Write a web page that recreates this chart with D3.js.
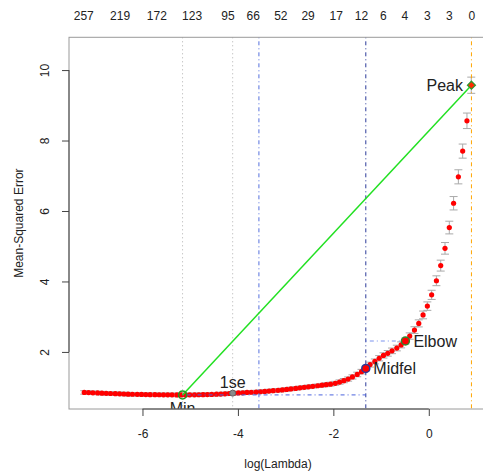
<!DOCTYPE html>
<html lang="en">
<head>
<meta charset="utf-8">
<title>CV MSE vs log(Lambda)</title>
<script src="https://d3js.org/d3.v7.min.js"></script>
<style>
  body { margin: 0; background: #fff; }
  text { font-family: "Liberation Sans", Arial, sans-serif; fill: #222; }
</style>
</head>
<body>
<script>
// log(lambda) grid and cross-validated error
var logLambda = [
  -7.22, -7.13, -7.04, -6.94, -6.85, -6.76, -6.67, -6.57, -6.48, -6.39,
  -6.30, -6.21, -6.11, -6.02, -5.93, -5.84, -5.74, -5.65, -5.56, -5.47,
  -5.38, -5.28, -5.19, -5.10, -5.01, -4.91, -4.82, -4.73, -4.64, -4.55,
  -4.45, -4.36, -4.27, -4.18, -4.08, -3.99, -3.90, -3.81, -3.72, -3.62,
  -3.53, -3.44, -3.35, -3.26, -3.16, -3.07, -2.98, -2.89, -2.79, -2.70,
  -2.61, -2.52, -2.43, -2.33, -2.24, -2.15, -2.06, -1.96, -1.87, -1.78,
  -1.69, -1.60, -1.50, -1.41, -1.32, -1.23, -1.13, -1.04, -0.95, -0.86,
  -0.77, -0.67, -0.58, -0.49, -0.40, -0.30, -0.21, -0.12, -0.03, 0.06,
  0.16, 0.25, 0.34, 0.43, 0.52, 0.62, 0.71, 0.80, 0.89
];
var cvm = [
  0.85, 0.845, 0.84, 0.835, 0.83, 0.825, 0.82, 0.815, 0.81, 0.806,
  0.802, 0.799, 0.796, 0.793, 0.79, 0.788, 0.786, 0.784, 0.783, 0.782,
  0.781, 0.78, 0.78, 0.78, 0.781, 0.782, 0.784, 0.787, 0.79, 0.795,
  0.80, 0.805, 0.81, 0.82, 0.83, 0.835, 0.84, 0.85, 0.855, 0.86,
  0.87, 0.88, 0.89, 0.90, 0.91, 0.92, 0.935, 0.95, 0.965, 0.98,
  0.995, 1.01, 1.025, 1.04, 1.055, 1.07, 1.085, 1.11, 1.145, 1.185,
  1.23, 1.29, 1.36, 1.44, 1.53, 1.64, 1.73, 1.82, 1.90, 1.96,
  2.03, 2.11, 2.20, 2.31, 2.45, 2.62, 2.81, 3.05, 3.30, 3.62,
  4.02, 4.45, 4.94, 5.53, 6.22, 6.97, 7.70, 8.56, 9.57
];
var cvsd = [
  0.05, 0.05, 0.05, 0.05, 0.05, 0.05, 0.05, 0.05, 0.05, 0.05,
  0.05, 0.05, 0.05, 0.05, 0.05, 0.05, 0.05, 0.05, 0.05, 0.05,
  0.05, 0.05, 0.05, 0.05, 0.05, 0.05, 0.05, 0.05, 0.05, 0.05,
  0.05, 0.05, 0.05, 0.05, 0.05, 0.05, 0.05, 0.05, 0.05, 0.05,
  0.05, 0.05, 0.05, 0.05, 0.05, 0.05, 0.05, 0.05, 0.05, 0.05,
  0.05, 0.05, 0.05, 0.05, 0.05, 0.055, 0.055, 0.055, 0.06, 0.06,
  0.06, 0.06, 0.065, 0.065, 0.07, 0.07, 0.07, 0.075, 0.075, 0.08,
  0.08, 0.08, 0.085, 0.085, 0.09, 0.095, 0.10, 0.11, 0.12, 0.13,
  0.14, 0.155, 0.165, 0.18, 0.19, 0.20, 0.20, 0.22, 0.23
];

// number of nonzero coefficients shown on the top axis
var nzLambda = [-7.23, -6.47, -5.70, -4.96, -4.21, -3.68, -3.10, -2.53, -1.94, -1.41, -0.95, -0.50, -0.03, 0.43, 0.90];
var nzLabels = ["257", "219", "172", "123", "95", "66", "52", "29", "17", "12", "6", "4", "3", "3", "0"];

// marked points
var keyNames = ["Min", "1se", "Midfel", "Elbow", "Peak"];
var keyLambda = [-5.16, -4.11, -1.32, -0.49, 0.894];
var keyMSE = [0.78, 0.83, 1.53, 2.31, 9.57];
var extraLambda = -3.56;   // blue dot-dash vertical

var xTicks = [-6, -4, -2, 0];
var yTicks = [2, 4, 6, 8, 10];

var W = 483, H = 473;
var box = {left: 69, right: 487, top: 37.3, bottom: 409};

var x = d3.scaleLinear().domain([-7.54, 1.22]).range([box.left, box.right]);
var y = d3.scaleLinear().domain([0.38, 10.93]).range([box.bottom, box.top]);

var svg = d3.select("body").append("svg")
    .attr("width", W)
    .attr("height", H);

svg.append("defs").append("clipPath").attr("id", "plotclip")
  .append("rect")
    .attr("x", box.left).attr("y", box.top)
    .attr("width", box.right - box.left).attr("height", box.bottom - box.top);

var plot = svg.append("g").attr("clip-path", "url(#plotclip)");

var data = logLambda.map(function(l, i) { return {l: l, m: cvm[i], s: cvsd[i]}; });

// error bars
var eb = plot.append("g").attr("stroke", "#a9a9a9").attr("stroke-width", 1);
data.forEach(function(d) {
  eb.append("line")
      .attr("x1", x(d.l)).attr("x2", x(d.l))
      .attr("y1", y(d.m - d.s)).attr("y2", y(d.m + d.s));
  [d.m - d.s, d.m + d.s].forEach(function(v) {
    eb.append("line")
        .attr("x1", x(d.l) - 4).attr("x2", x(d.l) + 4)
        .attr("y1", y(v)).attr("y2", y(v));
  });
});

// points
plot.append("g").selectAll("circle")
    .data(data)
  .enter().append("circle")
    .attr("cx", function(d) { return x(d.l); })
    .attr("cy", function(d) { return y(d.m); })
    .attr("r", 2.6)
    .attr("fill", "#ff0000");

// reference lines
function vline(l, color, dash) {
  plot.append("line")
      .attr("x1", x(l)).attr("x2", x(l))
      .attr("y1", box.top).attr("y2", box.bottom)
      .attr("stroke", color).attr("stroke-width", 1)
      .attr("stroke-dasharray", dash);
}
function hline(v, l1, l2, color, dash) {
  plot.append("line")
      .attr("x1", x(l1)).attr("x2", x(l2))
      .attr("y1", y(v)).attr("y2", y(v))
      .attr("stroke", color).attr("stroke-width", 1)
      .attr("stroke-dasharray", dash);
}
var dotdash = "1,3,4,3";
vline(keyLambda[0], "#b0b0b0", "1,3");
vline(keyLambda[1], "#b0b0b0", "1,3");
vline(extraLambda, "#5570dd", dotdash);
vline(keyLambda[2], "#2b3a99", dotdash);
vline(keyLambda[4], "#ffa500", dotdash);
hline(keyMSE[0], keyLambda[0], keyLambda[2], "#4a62dd", dotdash);
hline(keyMSE[3], keyLambda[2], keyLambda[3], "#7a92ee", dotdash);

// line from min to peak
plot.append("line")
    .attr("x1", x(keyLambda[0])).attr("y1", y(keyMSE[0]))
    .attr("x2", x(keyLambda[4])).attr("y2", y(keyMSE[4]))
    .attr("stroke", "#22e022").attr("stroke-width", 1.5);

// markers
plot.append("circle").attr("cx", x(keyLambda[0])).attr("cy", y(keyMSE[0])).attr("r", 4)
    .attr("fill", "none").attr("stroke", "#1f9a1f").attr("stroke-width", 1.5);
plot.append("circle").attr("cx", x(keyLambda[1])).attr("cy", y(keyMSE[1])).attr("r", 3)
    .attr("fill", "#8a8a8a").attr("stroke", "#666").attr("stroke-width", 1);
plot.append("circle").attr("cx", x(keyLambda[2])).attr("cy", y(keyMSE[2])).attr("r", 4)
    .attr("fill", "#ff0000").attr("stroke", "#2b3a99").attr("stroke-width", 1.5);
plot.append("circle").attr("cx", x(keyLambda[3])).attr("cy", y(keyMSE[3])).attr("r", 4)
    .attr("fill", "#ff0000").attr("stroke", "#2e8b2e").attr("stroke-width", 1.5);
var px = x(keyLambda[4]), py = y(keyMSE[4]);
plot.append("path")
    .attr("d", "M" + px + "," + (py - 4) + "L" + (px + 4) + "," + py + "L" + px + "," + (py + 4) + "L" + (px - 4) + "," + py + "Z")
    .attr("fill", "#ff2a00").attr("stroke", "#2e9a2e").attr("stroke-width", 1.2);

// marker labels
var lab = plot.append("g").style("font-size", "16px");
lab.append("text").attr("x", x(keyLambda[0])).attr("y", y(keyMSE[0]) + 19)
    .attr("text-anchor", "middle").text(keyNames[0]);
lab.append("text").attr("x", x(keyLambda[1])).attr("y", y(keyMSE[1]) - 5)
    .attr("text-anchor", "middle").text(keyNames[1]);
lab.append("text").attr("x", x(keyLambda[2]) + 7.5).attr("y", y(keyMSE[2]) + 6)
    .text(keyNames[2]);
lab.append("text").attr("x", x(keyLambda[3]) + 8).attr("y", y(keyMSE[3]) + 6)
    .text(keyNames[3]);
lab.append("text").attr("x", x(keyLambda[4]) - 8.5).attr("y", y(keyMSE[4]) + 6)
    .attr("text-anchor", "end").text(keyNames[4]);

// box
svg.append("rect")
    .attr("x", box.left).attr("y", box.top)
    .attr("width", box.right - box.left).attr("height", box.bottom - box.top)
    .attr("fill", "none").attr("stroke", "#9a9a9a").attr("stroke-width", 1);

// x axis
var xg = svg.append("g")
    .attr("transform", "translate(0," + box.bottom + ")")
    .call(d3.axisBottom(x).tickValues(xTicks).tickSize(7).tickSizeOuter(0).tickPadding(13)
      .tickFormat(function(d) { return d < 0 ? "-" + Math.abs(d) : d; }));
xg.select(".domain").remove();
xg.append("line").attr("x1", x(xTicks[0])).attr("x2", x(xTicks[xTicks.length - 1]))
    .attr("stroke", "#444");
xg.selectAll(".tick line").attr("stroke", "#444");
xg.selectAll("text").style("font-size", "12px").attr("fill", "#222");

// y axis
var yg = svg.append("g")
    .attr("transform", "translate(" + box.left + ",0)")
    .call(d3.axisLeft(y).tickValues(yTicks).tickSize(7).tickSizeOuter(0));
yg.select(".domain").remove();
yg.append("line").attr("y1", y(yTicks[0])).attr("y2", y(yTicks[yTicks.length - 1]))
    .attr("stroke", "#444");
yg.selectAll(".tick line").attr("stroke", "#444");
yg.selectAll("text")
    .style("font-size", "12px").attr("fill", "#222")
    .attr("x", 0).attr("dy", 0)
    .attr("text-anchor", "middle")
    .attr("transform", "translate(-20,0) rotate(-90)");

// top axis: nonzero counts
svg.append("g").selectAll("text")
    .data(nzLabels)
  .enter().append("text")
    .attr("x", function(d, i) { return x(nzLambda[i]); })
    .attr("y", 19.5)
    .attr("text-anchor", "middle")
    .style("font-size", "12px")
    .text(function(d) { return d; });

// axis titles
svg.append("text")
    .attr("x", (box.left + box.right) / 2).attr("y", 468)
    .attr("text-anchor", "middle").style("font-size", "12px")
    .text("log(Lambda)");
svg.append("text")
    .attr("transform", "translate(23," + ((box.top + box.bottom) / 2) + ") rotate(-90)")
    .attr("text-anchor", "middle").style("font-size", "12px")
    .text("Mean-Squared Error");
</script>
</body>
</html>
